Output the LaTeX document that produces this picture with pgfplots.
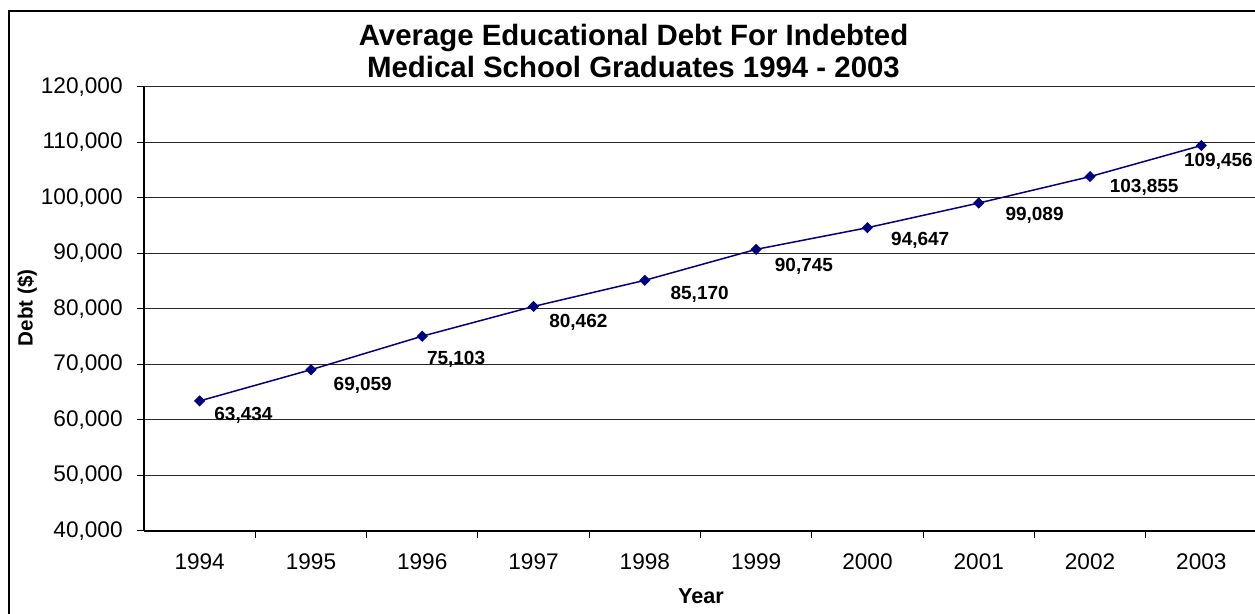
\documentclass[border=0pt]{standalone}
\usepackage{pgfplots}
\usepackage{pgfplotstable}
\pgfplotsset{compat=1.18}
\usepackage{fontspec}
\setmainfont{Liberation Sans}
\definecolor{navyline}{HTML}{000080}

\pgfplotstableread{
x y dx dy
0 63434 14 6
1 69059 22 7
2 75103 4 14
3 80462 15 7
4 85170 25 5
5 90745 18 8
6 94647 23 4
7 99089 26 3
8 103855 19 2
9 109456 -18 7
}\debt

\begin{document}
\begin{tikzpicture}[x=0.5pt,y=0.5pt]
\useasboundingbox (0,0) rectangle (1255,614);
\draw[line width=0.6pt, black] (9,603) rectangle (1275,-20);
\begin{axis}[
  at={(72pt,41.5pt)}, anchor=south west,
  scale only axis, width=556.5pt, height=222pt,
  xmin=-0.5, xmax=9.5, ymin=40000, ymax=120000,
  axis lines*=left,
  axis line style={line width=1pt, -, black},
  /pgf/number format/assume math mode=true,
  xtick={0,...,9},
  xticklabels={1994,1995,1996,1997,1998,1999,2000,2001,2002,2003},
  minor xtick={0.5,1.5,...,8.5},
  ytick={40000,50000,...,120000},
  scaled y ticks=false,
  tick align=outside,
  major tick length=3.5pt,
  minor tick length=3.5pt,
  major x tick style={draw=none},
  minor x tick style={draw=black, line width=0.5pt},
  ytick style={black, line width=0.5pt},
  ymajorgrids,
  grid style={black!85, line width=0.5pt},
  tick label style={font=\fontsize{11.3}{13}\selectfont},
  xticklabel style={anchor=north, inner sep=0pt, yshift=-7.5pt},
  yticklabel style={anchor=east, inner sep=0pt, xshift=-7pt,
    /pgf/number format/.cd, fixed, precision=0, 1000 sep={,}},
  title={Average Educational Debt For Indebted\\Medical School Graduates 1994 - 2003},
  title style={at={(axis description cs:0.4398,1.054)}, anchor=center, align=center,
    font=\bfseries\fontsize{14.7}{16}\selectfont, inner sep=0pt},
  xlabel={Year},
  xlabel style={at={(axis description cs:0.5004,-0.1464)}, anchor=center,
    font=\bfseries\fontsize{10.8}{12}\selectfont, inner sep=0pt},
  ylabel={Debt (\$)},
  ylabel style={at={(axis description cs:-0.1051,0.5023)}, anchor=center,
    font=\bfseries\fontsize{10.3}{12}\selectfont, inner sep=0pt},
  clip=false,
]
\addplot[color=navyline, line width=0.75pt, mark=square*, mark size=1.6pt,
  mark options={rotate=45, solid},
  visualization depends on={\thisrow{dx}\as\dx},
  visualization depends on={\thisrow{dy}\as\dy},
  nodes near coords={\pgfmathprintnumber[fixed, precision=0, 1000 sep={,}, assume math mode=true]{\pgfplotspointmeta}},
  every node near coord/.append style={anchor=north west, inner sep=0pt, text=black,
    font=\bfseries\fontsize{9.5}{11}\selectfont,
    xshift=\dx*0.5pt, yshift=-\dy*0.5pt},
] table[x=x, y=y] {\debt};
\end{axis}
\end{tikzpicture}
\end{document}
